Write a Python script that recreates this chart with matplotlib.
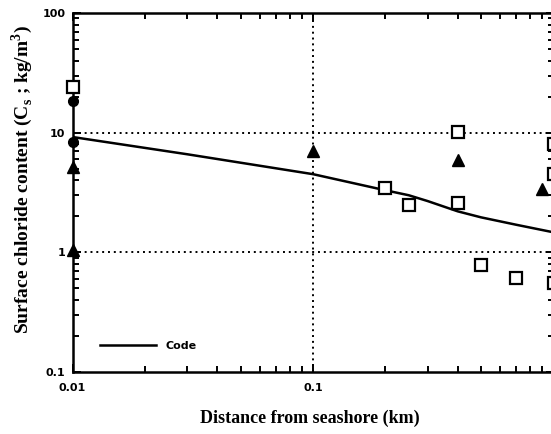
import matplotlib
matplotlib.use("Agg")
import matplotlib.pyplot as plt
from matplotlib.ticker import LogLocator, NullFormatter, FixedLocator, FixedFormatter

plt.rcParams["mathtext.fontset"] = "custom"
plt.rcParams["mathtext.rm"] = "Liberation Serif"
plt.rcParams["mathtext.bf"] = "Liberation Serif:bold"

# Data
sq_x = [0.01, 0.2, 0.25, 0.4, 0.4, 0.5, 0.7, 1.0, 1.0, 1.0]
sq_y = [24.0, 3.43, 2.47, 10.2, 2.6, 0.79, 0.61, 8.0, 4.5, 0.55]
tri_x = [0.01, 0.01, 0.1, 0.4, 0.9]
tri_y = [1.05, 5.2, 7.0, 5.9, 3.36]
cir_x = [0.01, 0.01]
cir_y = [18.3, 8.4]
code_x = [0.01, 0.03, 0.1, 0.2, 0.25, 0.3, 0.4, 0.5, 0.7, 1.0]
code_y = [9.2, 6.6, 4.5, 3.3, 3.0, 2.68, 2.2, 1.96, 1.7, 1.47]

xticks = [0.01, 0.1, 1]
xticklabels = ["0.01", "0.1", ""]
yticks = [0.1, 1, 10, 100]
yticklabels = ["0.1", "1", "10", "100"]

W, H = 551, 434
fig = plt.figure(figsize=(W / 100, H / 100), dpi=100)
ax = fig.add_axes([72.5 / W, 1 - 372 / H, (553.5 - 72.5) / W, (372 - 13) / H])
ax.set_xscale("log")
ax.set_yscale("log")
ax.set_xlim(0.01, 1)
ax.set_ylim(0.1, 100)

for s in ax.spines.values():
    s.set_linewidth(1.8)

# grid (dotted)
for gx in [0.1, 1]:
    ax.axvline(gx, color="black", lw=1.4, ls=(0, (1, 2)), zorder=1)
for gy in [1, 10]:
    ax.axhline(gy, color="black", lw=1.4, ls=(0, (1, 2)), zorder=1)

ax.plot(code_x, code_y, color="black", lw=1.8, label="Code", zorder=3)
ax.plot(sq_x, sq_y, ls="none", marker="s", ms=8, mfc="white", mec="black",
        mew=1.6, clip_on=False, zorder=4)
ax.plot(tri_x, tri_y, ls="none", marker="^", ms=8, mfc="black", mec="black",
        clip_on=False, zorder=4)
ax.plot(cir_x, cir_y, ls="none", marker="o", ms=7, mfc="black", mec="black",
        clip_on=False, zorder=4)

ax.xaxis.set_major_locator(FixedLocator(xticks))
ax.xaxis.set_major_formatter(FixedFormatter(xticklabels))
ax.yaxis.set_major_locator(FixedLocator(yticks))
ax.yaxis.set_major_formatter(FixedFormatter(yticklabels))
ax.xaxis.set_minor_locator(LogLocator(base=10, subs=range(2, 10), numticks=20))
ax.yaxis.set_minor_locator(LogLocator(base=10, subs=range(2, 10), numticks=20))
ax.xaxis.set_minor_formatter(NullFormatter())
ax.yaxis.set_minor_formatter(NullFormatter())

ax.tick_params(which="both", direction="in", top=True, right=True, width=1.4)
ax.tick_params(which="major", length=6)
ax.tick_params(which="minor", length=4)
ax.tick_params(axis="x", which="major", pad=8)
ax.tick_params(axis="y", which="major", pad=5)
for lab in ax.get_xticklabels() + ax.get_yticklabels():
    lab.set_fontfamily("DejaVu Sans")
    lab.set_fontweight("bold")
    lab.set_fontsize(8)

ax.set_xlabel("Distance from seashore (km)", fontfamily="Liberation Serif",
              fontweight="bold", fontsize=13, labelpad=8)
ax.set_ylabel("Surface chloride content (C$_\\mathbf{s}$ ; kg/m$^\\mathbf{3}$)",
              fontfamily="Liberation Serif", fontweight="bold", fontsize=14,
              labelpad=8)
ax.xaxis.set_label_coords((310 - 72.5) / (553.5 - 72.5), -(410 - 372) / (372 - 13))
ax.yaxis.set_label_coords(-(72.5 - 35) / (553.5 - 72.5), (372 - 180) / (372 - 13))

leg = ax.legend(loc="lower left", bbox_to_anchor=(27.5 / 481, 21 / 359),
                frameon=False, borderpad=0, borderaxespad=0, handlelength=5.0,
                handletextpad=0.9, prop={"family": "DejaVu Sans", "weight": "bold", "size": 8})

fig.savefig("out.png", dpi=100)
